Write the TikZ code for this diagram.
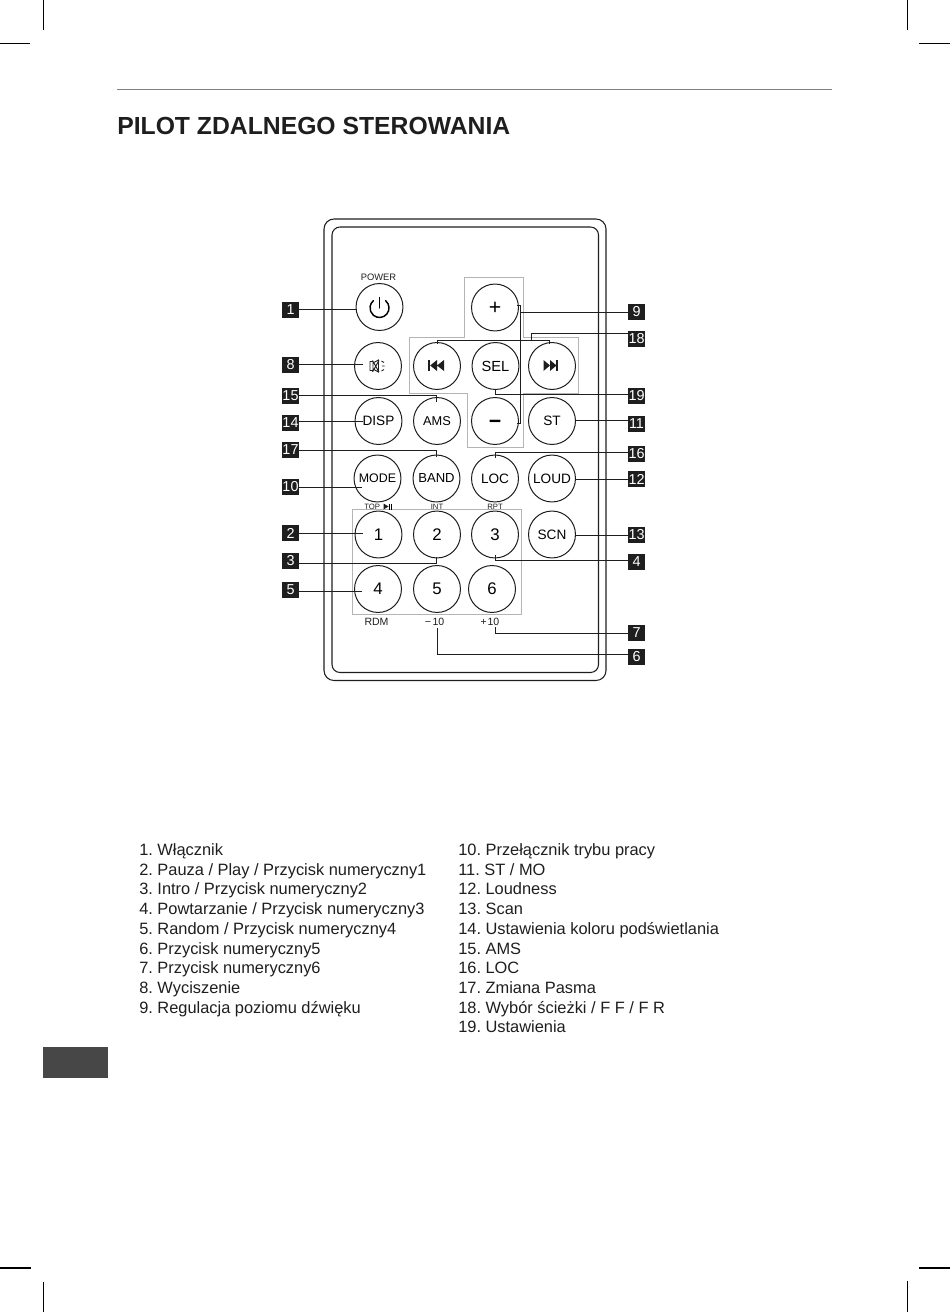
\documentclass[tikz,border=0pt]{standalone}
\usepackage{fontspec}
\setmainfont{Liberation Sans}
\frenchspacing
\definecolor{boxgray}{HTML}{B4B4B4}
\definecolor{inkblack}{HTML}{1E1E1E}
\tikzset{
  btn/.style={circle,draw=inkblack,line width=0.75pt,minimum size=35.2pt,inner sep=0pt,font=\fontsize{10.2}{12}\selectfont},
  numbtn/.style={btn,font=\fontsize{12.6}{14}\selectfont},
  tag/.style={fill=inkblack,text=white,minimum width=12.6pt,minimum height=12pt,inner sep=0pt,font=\fontsize{10.8}{12}\selectfont},
  lead/.style={draw=inkblack,line width=0.75pt},
  capt/.style={inner sep=0pt,text=inkblack,font=\fontsize{7}{8}\selectfont},
  smallcapt/.style={capt,font=\fontsize{5.8}{7}\selectfont},
  lowcapt/.style={capt,font=\fontsize{7.9}{9}\selectfont},
  item/.style={anchor=base west,inner sep=0pt,text=inkblack,font=\fontsize{12.3}{14}\selectfont},
  crop/.style={draw=black,line width=0.8pt}
}
\begin{document}
\begin{tikzpicture}[x=0.75pt,y=-0.75pt]
\useasboundingbox (0,0) rectangle (950,1312);
\draw[crop] (43.5,0) -- (43.5,30);
\draw[crop] (0,43.5) -- (30,43.5);
\draw[crop] (907.5,0) -- (907.5,30);
\draw[crop] (919,43.5) -- (950,43.5);
\draw[crop] (0,1268) -- (31,1268);
\draw[crop] (43.5,1282) -- (43.5,1312);
\draw[crop] (919,1268) -- (950,1268);
\draw[crop] (907.5,1281) -- (907.5,1312);
\draw[draw=gray,line width=0.7pt] (117,89.5) -- (832,89.5);
\fill[fill=black!72] (43,1047) rectangle (108,1078);
\node[anchor=base west,inner sep=0pt,text=inkblack,font=\fontsize{18.55}{20}\selectfont\bfseries] (Title) at (117,135) {PILOT ZDALNEGO STEROWANIA};

\draw[draw=inkblack,line width=0.8pt,rounded corners=7.5pt] (324,219) rectangle (606,680.5);
\draw[draw=inkblack,line width=0.8pt,rounded corners=6pt] (332,227) rectangle (598.5,672.5);
\draw[draw=boxgray,line width=0.6pt] (464,277) -- (523,277) -- (523,337) -- (578,337) -- (578,393) -- (523,393) -- (523,447) -- (467,447) -- (467,393) -- (409,393) -- (409,337) -- (464,337) -- cycle;
\draw[draw=boxgray,line width=0.6pt] (352,509.5) rectangle (521.5,614.5);

\node[btn] (Power) at (379.5,307) {};
\node[btn] (Plus) at (495,307.5) {\fontsize{16}{18}\selectfont\smash{\raisebox{-5.4pt}{+}}};
\node[btn] (Mute) at (378,366) {};
\node[btn] (Prev) at (437,366) {};
\node[btn,font=\fontsize{11}{12}\selectfont] (Sel) at (495.5,366) {SEL};
\node[btn] (Next) at (552,366) {};
\node[btn] (Disp) at (378.5,421) {DISP};
\node[btn,font=\fontsize{9.6}{12}\selectfont] (Ams) at (437,421) {AMS};
\node[btn] (Minus) at (495,421) {\fontsize{16}{18}\selectfont\bfseries\smash{\raisebox{-5.4pt}{−}}};
\node[btn] (St) at (552,421) {ST};
\node[btn,font=\fontsize{9.3}{12}\selectfont] (Mode) at (377.5,478.5) {MODE};
\node[btn,font=\fontsize{9.8}{12}\selectfont] (Band) at (436.5,478.5) {BAND};
\node[btn] (Loc) at (495,478.5) {LOC};
\node[btn] (Loud) at (552,478.5) {LOUD};
\node[numbtn] (One) at (378.5,534.5) {1};
\node[numbtn] (Two) at (437,534.5) {2};
\node[numbtn] (Three) at (495,534.5) {3};
\node[btn] (Scn) at (552,534.5) {SCN};
\node[numbtn] (Four) at (378,589) {4};
\node[numbtn] (Five) at (437,589) {5};
\node[numbtn] (Six) at (492,589) {6};

\node[capt] (PowerCapt) at (378.5,277) {POWER};
\node[smallcapt,anchor=west] (TopCapt) at (364,506.5) {TOP};
\node[smallcapt] (IntCapt) at (437,506.5) {INT};
\node[smallcapt] (RptCapt) at (495,506.5) {RPT};
\node[lowcapt] (RdmCapt) at (376.5,622) {RDM};
\node[lowcapt] (MinusTen) at (434.5,622) {−\hspace{1.2pt}10};
\node[lowcapt] (PlusTen) at (490,622) {+\hspace{0.5pt}10};

\draw[line width=1.1pt,line cap=round] (379.5,297.5) -- (379.5,308);
\draw[line width=1.1pt,line cap=round] (385.6,300.7) arc[start angle=-50,end angle=230,radius=9.5];
\fill[inkblack] (428.3,360) rectangle (430.2,371);
\fill[inkblack] (430.2,365.5) -- (437,360) -- (437,371) -- cycle (437,365.5) -- (444,360) -- (444,371) -- cycle;
\fill[inkblack] (556.3,360) rectangle (558,371);
\fill[inkblack] (556.5,365.5) -- (550,360) -- (550,371) -- cycle (550,365.5) -- (543.5,360) -- (543.5,371) -- cycle;
\fill[inkblack] (383.5,503.5) -- (388.5,506.5) -- (383.5,509.5) -- cycle;
\draw[line width=0.6pt] (389.5,503.5) -- (389.5,509.5) (391.5,503.5) -- (391.5,509.5);
\draw[draw=inkblack,line width=0.7pt] (370,361.5) rectangle (373,370.5) (373,363) -- (378.5,360) -- (378.5,372) -- (373,369) (372.5,360.5) -- (379,372) (379,360.5) -- (372.5,372);
\draw[draw=inkblack,line width=0.7pt] (381.5,361) -- (384,362.5) (382,366) -- (384.5,366) (381.5,371) -- (384,369.5);

\node[tag] (T1) at (290.5,310) {1};
\node[tag] (T8) at (290.5,365) {8};
\node[tag] (T15) at (290.5,396) {15};
\node[tag] (T14) at (290.5,423) {14};
\node[tag] (T17) at (290.5,450) {17};
\node[tag] (T10) at (290.5,487) {10};
\node[tag] (T2) at (290.5,533) {2};
\node[tag] (T3) at (290.5,561) {3};
\node[tag] (T5) at (290.5,590) {5};
\node[tag] (T9) at (636.5,312) {9};
\node[tag] (T18) at (636.5,339) {18};
\node[tag] (T19) at (636.5,396) {19};
\node[tag] (T11) at (636.5,423.5) {11};
\node[tag] (T16) at (636.5,454) {16};
\node[tag] (T12) at (636.5,479) {12};
\node[tag] (T13) at (636.5,535) {13};
\node[tag] (T4) at (636.5,562) {4};
\node[tag] (T7) at (636.5,633) {7};
\node[tag] (T6) at (636.5,657) {6};

\coordinate (e8) at (363,364);
\coordinate (e15) at (436,402);
\coordinate (e14) at (363,421);
\coordinate (e17) at (436,457);
\coordinate (e10) at (362,487);
\coordinate (e2) at (363,533);
\coordinate (e3) at (436,557);
\coordinate (e5) at (362,591.5);
\coordinate (e9a) at (517,305.5);
\coordinate (e9b) at (517,423);
\coordinate (e18a) at (437,343.5);
\coordinate (e18b) at (549,343.5);
\coordinate (e19) at (495,390);
\coordinate (e16) at (495,458);
\coordinate (e4) at (495,555);
\coordinate (e7) at (495,627);
\coordinate (e6) at (437,628);

\draw[lead] (T1.east) -- (Power.west |- T1.east);
\draw[lead] (T8.east |- e8) -- (e8);
\draw[lead] (T15.east |- 0,395) -| (e15);
\draw[lead] (T14.east |- e14) -- (e14);
\draw[lead] (T17.east) -| (e17);
\draw[lead] (T10.east |- e10) -- (e10);
\draw[lead] (T2.east) -- (e2);
\draw[lead] (T3.east |- 0,563) -| (e3);
\draw[lead] (T5.east |- e5) -- (e5);
\draw[lead] (T9.west |- 0,313) -- (520,313);
\draw[lead] (e9a) -- (520,305.5) -- (520,423) -- (e9b);
\draw[lead] (T18.west |- 0,333) -| (531.5,340);
\draw[lead] (e18a) |- (549,340) -- (e18b);
\draw[lead] (T19.west |- 0,394) -| (e19);
\draw[lead] (T11.west |- 0,420.5) -- (St.east |- 0,420.5);
\draw[lead] (T16.west |- 0,452.5) -| (e16);
\draw[lead] (T12.west) -- (Loud.east |- T12.west);
\draw[lead] (T13.west) -- (Scn.east |- T13.west);
\draw[lead] (T4.west |- 0,560) -| (e4);
\draw[lead] (T7.west) -| (e7);
\draw[lead] (T6.west |- 0,654) -| (e6);

\node[item] (I1) at (139,855.5) {1. Włącznik};
\node[item] (I2) at (139,875.2) {2. Pauza / Play / Przycisk numeryczny1};
\node[item] (I3) at (139,894.9) {3. Intro / Przycisk numeryczny2};
\node[item] (I4) at (139,914.6) {4. Powtarzanie / Przycisk numeryczny3};
\node[item] (I5) at (139,934.3) {5. Random / Przycisk numeryczny4};
\node[item] (I6) at (139,954) {6. Przycisk numeryczny5};
\node[item] (I7) at (139,973.7) {7. Przycisk numeryczny6};
\node[item] (I8) at (139,993.4) {8. Wyciszenie};
\node[item] (I9) at (139,1013.1) {9. Regulacja poziomu dźwięku};
\node[item] (I10) at (458,855.5) {10. Przełącznik trybu pracy};
\node[item] (I11) at (458,875.2) {11. ST / MO};
\node[item] (I12) at (458,894.9) {12. Loudness};
\node[item] (I13) at (458,914.6) {13. Scan};
\node[item] (I14) at (458,934.3) {14. Ustawienia koloru podświetlania};
\node[item] (I15) at (458,954) {15. AMS};
\node[item] (I16) at (458,973.7) {16. LOC};
\node[item] (I17) at (458,993.4) {17. Zmiana Pasma};
\node[item] (I18) at (458,1013.1) {18. Wybór ścieżki / F F / F R};
\node[item] (I19) at (458,1032.8) {19. Ustawienia};
\end{tikzpicture}
\end{document}
